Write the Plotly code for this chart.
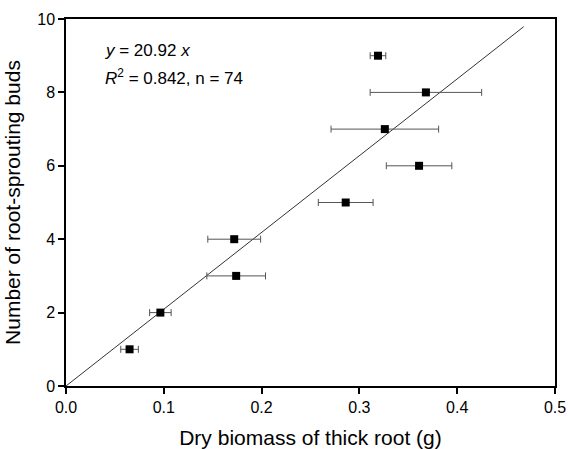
import plotly.graph_objects as go

# Data
biomass = [0.065, 0.0965, 0.174, 0.172, 0.286, 0.361, 0.326, 0.368, 0.319]
buds = [1, 2, 3, 4, 5, 6, 7, 8, 9]
biomass_err = [0.009, 0.011, 0.030, 0.027, 0.028, 0.0335, 0.055, 0.057, 0.008]

fit_slope = 20.92
fit_x = [0.0, 0.468]
fit_y = [fit_slope * v for v in fit_x]

x_ticks = [0.0, 0.1, 0.2, 0.3, 0.4, 0.5]
x_tick_labels = ["0.0", "0.1", "0.2", "0.3", "0.4", "0.5"]
y_ticks = [0, 2, 4, 6, 8, 10]

FONT = "Liberation Sans, Arial, sans-serif"

fig = go.Figure()
fig.add_trace(go.Scatter(
    x=fit_x, y=fit_y, mode="lines",
    line=dict(color="#333333", width=1),
    showlegend=False, hoverinfo="skip",
))
fig.add_trace(go.Scatter(
    x=biomass, y=buds, mode="markers",
    marker=dict(symbol="square", size=8, color="black"),
    error_x=dict(type="data", array=biomass_err, visible=True,
                 color="#555555", thickness=1, width=3.5),
    showlegend=False,
))

fig.add_annotation(
    x=0.076, y=0.914, xref="paper", yref="paper",
    xanchor="left", yanchor="middle", showarrow=False,
    text="<i>y</i> = 20.92 <i>x</i>",
    font=dict(family=FONT, size=17, color="black"),
)
fig.add_annotation(
    x=0.076, y=0.841, xref="paper", yref="paper",
    xanchor="left", yanchor="middle", showarrow=False,
    text="<i>R</i><sup>2</sup> = 0.842, n = 74",
    font=dict(family=FONT, size=17, color="black"),
)

axis_common = dict(
    showline=True, linecolor="black", linewidth=1.5, mirror=True,
    ticks="outside", ticklen=6, tickwidth=1.5, tickcolor="black",
    showgrid=False, zeroline=False, automargin=False,
    tickfont=dict(family=FONT, size=16, color="black"),
)

fig.update_layout(
    template="none",
    width=568, height=449,
    margin=dict(l=66, r=13, t=19, b=63),
    paper_bgcolor="white", plot_bgcolor="white",
    font=dict(family=FONT, color="black"),
    xaxis=dict(range=[0, 0.5], tickvals=x_ticks, ticktext=x_tick_labels,
               title=dict(text="Dry biomass of thick root (g)",
                          font=dict(family=FONT, size=21), standoff=20),
               **axis_common),
    yaxis=dict(range=[0, 10], tickvals=y_ticks,
               title=dict(text="Number of root-sprouting buds",
                          font=dict(family=FONT, size=21), standoff=11),
               **axis_common),
)

# remove the default page margin so the figure fills the window exactly
fig.write_html("out.html", config={"displayModeBar": False},
               post_script="document.body.style.margin='0';")
